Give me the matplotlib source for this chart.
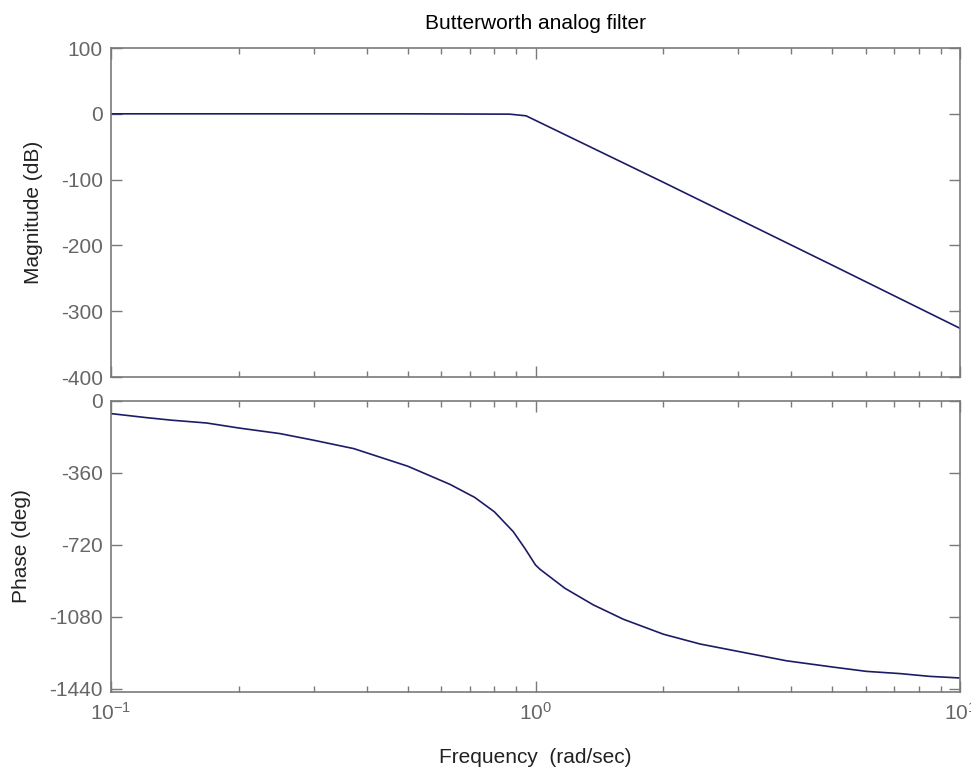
import matplotlib.pyplot as plt
from matplotlib.ticker import LogLocator, NullFormatter

plt.rcParams['font.family'] = ['Liberation Sans', 'DejaVu Sans']
plt.rcParams['axes.unicode_minus'] = False

# magnitude response
mag_freq = [0.1, 0.5, 0.87, 0.95, 2.0, 5.0, 10.0]
mag_db = [0, 0, -0.5, -3, -104, -230, -326]

# phase response
phase_freq = [0.1, 0.121, 0.139, 0.168, 0.2, 0.25, 0.3, 0.373, 0.4, 0.5,
              0.629, 0.719, 0.8, 0.886, 0.944, 1.0, 1.024, 1.172, 1.367,
              1.609, 2.0, 2.44, 3.0, 3.9, 5.0, 6.02, 7.21, 8.49, 10.0]
phase_deg = [-63, -83, -96, -110, -135, -163, -196, -238, -259, -326,
             -417, -482, -554, -653, -737, -820, -841, -936, -1019,
             -1091, -1166, -1215, -1252, -1299, -1330, -1352, -1363, -1377, -1385]

mag_ticks = [-400, -300, -200, -100, 0, 100]
phase_ticks = [-1440, -1080, -720, -360, 0]

line_color = '#1c1c66'
axis_color = '#7a7a7a'
tick_color = '#666666'

fig = plt.figure(figsize=(9.71, 7.71), dpi=100)
ax1 = fig.add_axes([0.1143, 0.511, 0.8744, 0.4267])
ax2 = fig.add_axes([0.1143, 0.1025, 0.8744, 0.3774])

ax1.plot(mag_freq, mag_db, color=line_color, lw=1.2)
ax2.plot(phase_freq, phase_deg, color=line_color, lw=1.2)

for ax in (ax1, ax2):
    ax.set_xscale('log')
    ax.set_xlim(0.1, 10)
    ax.xaxis.set_major_locator(LogLocator(base=10))
    ax.xaxis.set_minor_locator(LogLocator(base=10, subs=range(2, 10)))
    ax.xaxis.set_minor_formatter(NullFormatter())
    ax.tick_params(which='both', direction='in', top=True, right=True,
                   color=axis_color, labelcolor=tick_color, labelsize=15)
    ax.tick_params(which='major', length=8, width=1)
    ax.tick_params(which='minor', length=4.5, width=1)
    ax.tick_params(axis='y', pad=6)
    ax.tick_params(axis='x', pad=7)
    for s in ax.spines.values():
        s.set_color(axis_color)
        s.set_linewidth(1.2)

ax1.set_ylim(-400, 100)
ax1.set_yticks(mag_ticks)
ax1.tick_params(axis='x', which='both', labelbottom=False)
ax1.set_ylabel('Magnitude (dB)', fontsize=15, color='#222222')
ax1.yaxis.set_label_coords(-0.080, 0.5)
ax1.set_title('Butterworth analog filter', fontsize=15, pad=14)

ax2.set_ylim(-1455, 0)
ax2.set_yticks(phase_ticks)
ax2.set_ylabel('Phase (deg)', fontsize=15, color='#222222')
ax2.yaxis.set_label_coords(-0.094, 0.5)
ax2.set_xlabel('Frequency  (rad/sec)', fontsize=15, color='#222222')
ax2.xaxis.set_label_coords(0.5, -0.192)

fig.savefig('out.png', dpi=100)
